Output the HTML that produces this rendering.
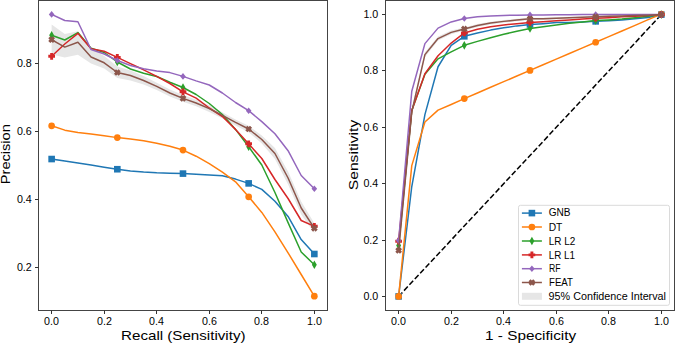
<!DOCTYPE html>
<html><head><meta charset="utf-8"><style>
html,body{margin:0;padding:0;background:#fff;}
body{width:675px;height:343px;overflow:hidden;font-family:"Liberation Sans",sans-serif;}
svg{display:block;}
</style></head><body>
<svg width="675" height="343" viewBox="0 0 675 343">
<rect width="675" height="343" fill="#fff"/>
<defs><clipPath id="cl"><rect x="38.5" y="0.5" width="289.0" height="310.0"/></clipPath><clipPath id="cr"><rect x="385.5" y="0.5" width="289.0" height="310.0"/></clipPath></defs>
<g clip-path="url(#cl)">
<polygon points="51.64,24.6 64.78,34.1 77.91,31.3 91.05,48.5 104.18,56 117.31,66.5 130.45,70.5 143.59,76 156.72,82.8 169.86,89.6 182.99,95 196.12,99.7 209.26,105.3 222.39,112.2 235.53,119.4 248.66,125.8 261.8,135.5 274.94,148 288.07,171.5 301.2,201.5 314.34,223.3 314.34,233.3 301.2,214.5 288.07,184.5 274.94,159 261.8,143.5 248.66,132.2 235.53,125.4 222.39,118.6 209.26,111.9 196.12,106.3 182.99,101.8 169.86,96.4 156.72,90 143.59,84.5 130.45,80.5 117.31,78 104.18,68.5 91.05,63.5 77.91,54.8 64.78,57.6 51.64,54.6" fill="#e6e6e6"/>
<path d="M51.64 159.04 L64.78 161.09 L77.91 163.11 L91.05 165.11 L104.18 167.17 L117.31 169.23 L130.45 170.94 L143.59 172.03 L156.72 172.79 L169.86 173.19 L182.99 173.6 L196.12 174.24 L209.26 174.89 L222.39 175.78 L235.53 179.1 L248.66 183.39 L261.8 189.4 L274.94 201.22 L288.07 216.44 L301.2 239.51 L314.34 254" fill="none" stroke="#1f77b4" stroke-width="1.5" stroke-linejoin="round" stroke-linecap="square"/>
<rect x="48.34" y="155.74" width="6.6" height="6.6" fill="#1f77b4" stroke="none"/>
<rect x="114.02" y="165.93" width="6.6" height="6.6" fill="#1f77b4" stroke="none"/>
<rect x="179.69" y="170.3" width="6.6" height="6.6" fill="#1f77b4" stroke="none"/>
<rect x="245.36" y="180.09" width="6.6" height="6.6" fill="#1f77b4" stroke="none"/>
<rect x="311.04" y="250.7" width="6.6" height="6.6" fill="#1f77b4" stroke="none"/>
<path d="M51.64 125.8 L64.78 130.15 L77.91 132.4 L91.05 134.11 L104.18 135.73 L117.31 137.62 L130.45 138.96 L143.59 140.76 L156.72 143.16 L169.86 146.18 L182.99 150.07 L196.12 156.22 L209.26 163.59 L222.39 172.21 L235.53 181.83 L248.66 196.78 L261.8 212.43 L274.94 231.89 L288.07 252.81 L301.2 274.51 L314.34 296.2" fill="none" stroke="#ff7f0e" stroke-width="1.5" stroke-linejoin="round" stroke-linecap="square"/>
<circle cx="51.64" cy="125.8" r="3.35" fill="#ff7f0e" stroke="none"/>
<circle cx="117.31" cy="137.62" r="3.35" fill="#ff7f0e" stroke="none"/>
<circle cx="182.99" cy="150.07" r="3.35" fill="#ff7f0e" stroke="none"/>
<circle cx="248.66" cy="196.78" r="3.35" fill="#ff7f0e" stroke="none"/>
<circle cx="314.34" cy="296.2" r="3.35" fill="#ff7f0e" stroke="none"/>
<path d="M51.64 35.2 L64.78 40 L77.91 32.6 L91.05 48.2 L104.18 52.5 L117.31 62 L130.45 69 L143.59 73.3 L156.72 76.5 L169.86 82.3 L182.99 87.5 L196.12 94.5 L209.26 103.5 L222.39 114.5 L235.53 129.4 L248.66 146.7 L261.8 165 L274.94 192.5 L288.07 222.6 L301.2 252 L314.34 264.8" fill="none" stroke="#2ca02c" stroke-width="1.5" stroke-linejoin="round" stroke-linecap="square"/>
<polygon points="51.64,30.9 54.09,35.2 51.64,39.5 49.19,35.2" fill="#2ca02c" stroke="none"/>
<polygon points="117.31,57.7 119.77,62 117.31,66.3 114.86,62" fill="#2ca02c" stroke="none"/>
<polygon points="182.99,83.2 185.44,87.5 182.99,91.8 180.54,87.5" fill="#2ca02c" stroke="none"/>
<polygon points="248.66,142.4 251.11,146.7 248.66,151 246.21,146.7" fill="#2ca02c" stroke="none"/>
<polygon points="314.34,260.5 316.79,264.8 314.34,269.1 311.89,264.8" fill="#2ca02c" stroke="none"/>
<path d="M51.64 56.3 L64.78 44 L77.91 33.3 L91.05 48.8 L104.18 51.2 L117.31 57.4 L130.45 63.6 L143.59 69.8 L156.72 76.4 L169.86 83.5 L182.99 91.8 L196.12 98.2 L209.26 108 L222.39 116.5 L235.53 129.4 L248.66 143.8 L261.8 158.5 L274.94 179.5 L288.07 198.5 L301.2 220.5 L314.34 226.3" fill="none" stroke="#d62728" stroke-width="1.5" stroke-linejoin="round" stroke-linecap="square"/>
<polygon points="50.19,52.95 53.09,52.95 53.09,54.85 54.99,54.85 54.99,57.75 53.09,57.75 53.09,59.65 50.19,59.65 50.19,57.75 48.29,57.75 48.29,54.85 50.19,54.85" fill="#d62728" stroke="none"/>
<polygon points="115.86,54.05 118.77,54.05 118.77,55.95 120.66,55.95 120.66,58.85 118.77,58.85 118.77,60.75 115.86,60.75 115.86,58.85 113.97,58.85 113.97,55.95 115.86,55.95" fill="#d62728" stroke="none"/>
<polygon points="181.54,88.45 184.44,88.45 184.44,90.35 186.34,90.35 186.34,93.25 184.44,93.25 184.44,95.15 181.54,95.15 181.54,93.25 179.64,93.25 179.64,90.35 181.54,90.35" fill="#d62728" stroke="none"/>
<polygon points="247.21,140.45 250.11,140.45 250.11,142.35 252.01,142.35 252.01,145.25 250.11,145.25 250.11,147.15 247.21,147.15 247.21,145.25 245.31,145.25 245.31,142.35 247.21,142.35" fill="#d62728" stroke="none"/>
<polygon points="312.89,222.95 315.79,222.95 315.79,224.85 317.69,224.85 317.69,227.75 315.79,227.75 315.79,229.65 312.89,229.65 312.89,227.75 310.99,227.75 310.99,224.85 312.89,224.85" fill="#d62728" stroke="none"/>
<path d="M51.64 14.4 L64.78 20.5 L77.91 21.8 L91.05 49.5 L104.18 54 L117.31 60.5 L130.45 65.5 L143.59 68.8 L156.72 71 L169.86 72.6 L182.99 76.4 L196.12 80.9 L209.26 85 L222.39 93 L235.53 102.5 L248.66 110.7 L261.8 121.6 L274.94 133.7 L288.07 150.7 L301.2 175.5 L314.34 188.8" fill="none" stroke="#9467bd" stroke-width="1.5" stroke-linejoin="round" stroke-linecap="square"/>
<polygon points="51.64,11.1 54.44,14.4 51.64,17.7 48.84,14.4" fill="#9467bd" stroke="none"/>
<polygon points="117.31,57.2 120.11,60.5 117.31,63.8 114.52,60.5" fill="#9467bd" stroke="none"/>
<polygon points="182.99,73.1 185.79,76.4 182.99,79.7 180.19,76.4" fill="#9467bd" stroke="none"/>
<polygon points="248.66,107.4 251.46,110.7 248.66,114 245.86,110.7" fill="#9467bd" stroke="none"/>
<polygon points="314.34,185.5 317.14,188.8 314.34,192.1 311.54,188.8" fill="#9467bd" stroke="none"/>
<path d="M51.64 39.6 L64.78 47.1 L77.91 42.3 L91.05 57 L104.18 62.8 L117.31 72.5 L130.45 75.5 L143.59 80.5 L156.72 86.4 L169.86 93 L182.99 98.4 L196.12 103 L209.26 108.6 L222.39 115.4 L235.53 122.4 L248.66 129 L261.8 139.5 L274.94 153.5 L288.07 178 L301.2 208 L314.34 228.3" fill="none" stroke="#8c564b" stroke-width="1.5" stroke-linejoin="round" stroke-linecap="square"/>
<polygon points="52.95,36.24 55,38.29 53.69,39.6 55,40.91 52.95,42.96 51.64,41.65 50.33,42.96 48.28,40.91 49.59,39.6 48.28,38.29 50.33,36.24 51.64,37.55" fill="#8c564b" stroke="none"/>
<polygon points="118.62,69.14 120.67,71.19 119.37,72.5 120.67,73.81 118.62,75.86 117.31,74.55 116.01,75.86 113.96,73.81 115.26,72.5 113.96,71.19 116.01,69.14 117.31,70.45" fill="#8c564b" stroke="none"/>
<polygon points="184.3,95.04 186.35,97.09 185.04,98.4 186.35,99.71 184.3,101.76 182.99,100.45 181.68,101.76 179.63,99.71 180.94,98.4 179.63,97.09 181.68,95.04 182.99,96.35" fill="#8c564b" stroke="none"/>
<polygon points="249.97,125.64 252.02,127.69 250.72,129 252.02,130.31 249.97,132.36 248.66,131.05 247.36,132.36 245.31,130.31 246.61,129 245.31,127.69 247.36,125.64 248.66,126.95" fill="#8c564b" stroke="none"/>
<polygon points="315.65,224.94 317.7,226.99 316.39,228.3 317.7,229.61 315.65,231.66 314.34,230.35 313.03,231.66 310.98,229.61 312.29,228.3 310.98,226.99 313.03,224.94 314.34,226.25" fill="#8c564b" stroke="none"/>
</g>
<g clip-path="url(#cr)">
<polygon points="398.64,247.48 411.77,108.83 424.91,52.13 438.04,36.56 451.18,30.56 464.31,27.38 477.45,24.1 490.58,21.66 503.72,20.07 516.86,18.76 529.99,17.64 543.12,17.74 556.26,17.17 569.39,16.71 582.53,16.15 595.66,15.86 608.8,15.4 621.93,15.22 635.07,14.86 648.2,14.77 661.34,14.61 661.34,14.61 648.2,15.57 635.07,16.06 621.93,16.82 608.8,17.2 595.66,17.86 582.53,18.15 569.39,18.71 556.26,19.37 543.12,19.94 529.99,20.04 516.86,21.16 503.72,22.67 490.58,24.46 477.45,27.1 464.31,30.58 451.18,34.16 438.04,40.56 424.91,57.13 411.77,114.83 398.64,253.48" fill="#e6e6e6"/>
<path d="M398.64 296.41 L661.34 14.61" stroke="#000" stroke-width="1.5" stroke-dasharray="5.5,2.4" fill="none"/>
<path d="M398.64 296.41 L411.77 186.51 L424.91 114.65 L438.04 66.74 L451.18 45.33 L464.31 36.31 L477.45 32.93 L490.58 30.11 L503.72 27.85 L516.86 25.88 L529.99 24.47 L543.12 23.63 L556.26 22.5 L569.39 22.5 L582.53 21.94 L595.66 21.37 L608.8 20.81 L621.93 19.96 L635.07 18.84 L648.2 17.43 L661.34 14.61" fill="none" stroke="#1f77b4" stroke-width="1.5" stroke-linejoin="round" stroke-linecap="square"/>
<rect x="395.34" y="293.11" width="6.6" height="6.6" fill="#1f77b4" stroke="none"/>
<rect x="461.01" y="33.01" width="6.6" height="6.6" fill="#1f77b4" stroke="none"/>
<rect x="526.69" y="21.17" width="6.6" height="6.6" fill="#1f77b4" stroke="none"/>
<rect x="592.37" y="18.07" width="6.6" height="6.6" fill="#1f77b4" stroke="none"/>
<rect x="658.04" y="11.31" width="6.6" height="6.6" fill="#1f77b4" stroke="none"/>
<path d="M398.64 296.41 L411.77 165.65 L424.91 121.98 L438.04 110.14 L451.18 104.5 L464.31 98.59 L477.45 92.95 L490.58 87.31 L503.72 81.68 L516.86 76.04 L529.99 70.41 L543.12 64.77 L556.26 59.13 L569.39 53.5 L582.53 47.86 L595.66 42.23 L608.8 36.59 L621.93 30.95 L635.07 25.32 L648.2 19.68 L661.34 14.05" fill="none" stroke="#ff7f0e" stroke-width="1.5" stroke-linejoin="round" stroke-linecap="square"/>
<circle cx="398.64" cy="296.41" r="3.35" fill="#ff7f0e" stroke="none"/>
<circle cx="464.31" cy="98.59" r="3.35" fill="#ff7f0e" stroke="none"/>
<circle cx="529.99" cy="70.41" r="3.35" fill="#ff7f0e" stroke="none"/>
<circle cx="595.66" cy="42.23" r="3.35" fill="#ff7f0e" stroke="none"/>
<circle cx="661.34" cy="14.05" r="3.35" fill="#ff7f0e" stroke="none"/>
<path d="M398.64 245.4 L411.77 110.42 L424.91 74.35 L438.04 58.85 L451.18 51.81 L464.31 45.33 L477.45 41.38 L490.58 37.72 L503.72 34.34 L516.86 31.24 L529.99 28.42 L543.12 26.73 L556.26 25.04 L569.39 23.35 L582.53 21.94 L595.66 20.53 L608.8 19.96 L621.93 19.12 L635.07 17.71 L648.2 16.3 L661.34 14.61" fill="none" stroke="#2ca02c" stroke-width="1.5" stroke-linejoin="round" stroke-linecap="square"/>
<polygon points="398.64,241.1 401.09,245.4 398.64,249.7 396.19,245.4" fill="#2ca02c" stroke="none"/>
<polygon points="464.31,41.03 466.76,45.33 464.31,49.63 461.87,45.33" fill="#2ca02c" stroke="none"/>
<polygon points="529.99,24.12 532.44,28.42 529.99,32.72 527.54,28.42" fill="#2ca02c" stroke="none"/>
<polygon points="595.66,16.23 598.12,20.53 595.66,24.83 593.21,20.53" fill="#2ca02c" stroke="none"/>
<polygon points="661.34,10.31 663.79,14.61 661.34,18.91 658.89,14.61" fill="#2ca02c" stroke="none"/>
<path d="M398.64 241.18 L411.77 110.42 L424.91 73.79 L438.04 55.75 L451.18 43.07 L464.31 32.93 L477.45 29.26 L490.58 26.73 L503.72 25.04 L516.86 23.63 L529.99 22.5 L543.12 21.66 L556.26 20.81 L569.39 19.96 L582.53 19.12 L595.66 18.27 L608.8 17.71 L621.93 16.86 L635.07 16.3 L648.2 15.46 L661.34 14.61" fill="none" stroke="#d62728" stroke-width="1.5" stroke-linejoin="round" stroke-linecap="square"/>
<polygon points="397.19,237.83 400.09,237.83 400.09,239.73 401.99,239.73 401.99,242.63 400.09,242.63 400.09,244.53 397.19,244.53 397.19,242.63 395.29,242.63 395.29,239.73 397.19,239.73" fill="#d62728" stroke="none"/>
<polygon points="462.87,29.58 465.76,29.58 465.76,31.48 467.67,31.48 467.67,34.38 465.76,34.38 465.76,36.28 462.87,36.28 462.87,34.38 460.96,34.38 460.96,31.48 462.87,31.48" fill="#d62728" stroke="none"/>
<polygon points="528.54,19.15 531.44,19.15 531.44,21.05 533.34,21.05 533.34,23.95 531.44,23.95 531.44,25.85 528.54,25.85 528.54,23.95 526.64,23.95 526.64,21.05 528.54,21.05" fill="#d62728" stroke="none"/>
<polygon points="594.21,14.92 597.12,14.92 597.12,16.82 599.01,16.82 599.01,19.72 597.12,19.72 597.12,21.62 594.21,21.62 594.21,19.72 592.31,19.72 592.31,16.82 594.21,16.82" fill="#d62728" stroke="none"/>
<polygon points="659.89,11.26 662.79,11.26 662.79,13.16 664.69,13.16 664.69,16.06 662.79,16.06 662.79,17.96 659.89,17.96 659.89,16.06 657.99,16.06 657.99,13.16 659.89,13.16" fill="#d62728" stroke="none"/>
<path d="M398.64 240.61 L411.77 91.26 L424.91 43.64 L438.04 28.14 L451.18 21.94 L464.31 18.56 L477.45 16.86 L490.58 16.02 L503.72 15.46 L516.86 15.17 L529.99 14.89 L543.12 14.89 L556.26 14.75 L569.39 14.75 L582.53 14.61 L595.66 14.61 L608.8 14.61 L621.93 14.61 L635.07 14.61 L648.2 14.61 L661.34 14.61" fill="none" stroke="#9467bd" stroke-width="1.5" stroke-linejoin="round" stroke-linecap="square"/>
<polygon points="398.64,237.31 401.44,240.61 398.64,243.91 395.84,240.61" fill="#9467bd" stroke="none"/>
<polygon points="464.31,15.26 467.12,18.56 464.31,21.86 461.51,18.56" fill="#9467bd" stroke="none"/>
<polygon points="529.99,11.59 532.79,14.89 529.99,18.19 527.19,14.89" fill="#9467bd" stroke="none"/>
<polygon points="595.66,11.31 598.46,14.61 595.66,17.91 592.87,14.61" fill="#9467bd" stroke="none"/>
<polygon points="661.34,11.31 664.14,14.61 661.34,17.91 658.54,14.61" fill="#9467bd" stroke="none"/>
<path d="M398.64 250.48 L411.77 111.83 L424.91 54.63 L438.04 38.56 L451.18 32.36 L464.31 28.98 L477.45 25.6 L490.58 23.06 L503.72 21.37 L516.86 19.96 L529.99 18.84 L543.12 18.84 L556.26 18.27 L569.39 17.71 L582.53 17.15 L595.66 16.86 L608.8 16.3 L621.93 16.02 L635.07 15.46 L648.2 15.17 L661.34 14.61" fill="none" stroke="#8c564b" stroke-width="1.5" stroke-linejoin="round" stroke-linecap="square"/>
<polygon points="399.95,247.12 402,249.17 400.69,250.48 402,251.78 399.95,253.84 398.64,252.53 397.33,253.84 395.28,251.78 396.59,250.48 395.28,249.17 397.33,247.12 398.64,248.43" fill="#8c564b" stroke="none"/>
<polygon points="465.62,25.62 467.67,27.67 466.37,28.98 467.67,30.29 465.62,32.34 464.31,31.03 463.01,32.34 460.96,30.29 462.26,28.98 460.96,27.67 463.01,25.62 464.31,26.93" fill="#8c564b" stroke="none"/>
<polygon points="531.3,15.48 533.35,17.53 532.04,18.84 533.35,20.15 531.3,22.2 529.99,20.89 528.68,22.2 526.63,20.15 527.94,18.84 526.63,17.53 528.68,15.48 529.99,16.79" fill="#8c564b" stroke="none"/>
<polygon points="596.97,13.51 599.02,15.56 597.72,16.86 599.02,18.17 596.97,20.22 595.66,18.92 594.36,20.22 592.31,18.17 593.61,16.86 592.31,15.56 594.36,13.51 595.66,14.81" fill="#8c564b" stroke="none"/>
<polygon points="662.65,11.25 664.7,13.3 663.39,14.61 664.7,15.92 662.65,17.97 661.34,16.66 660.03,17.97 657.98,15.92 659.29,14.61 657.98,13.3 660.03,11.25 661.34,12.56" fill="#8c564b" stroke="none"/>
</g>
<rect x="38.5" y="0.5" width="289" height="310" fill="none" stroke="#444" stroke-width="1"/>
<rect x="385.5" y="0.5" width="289" height="310" fill="none" stroke="#444" stroke-width="1"/>
<g font-family="Liberation Sans, sans-serif" fill="#000">
<text x="51.5" y="324.6" font-size="10.5" text-anchor="middle" textLength="14.9" lengthAdjust="spacingAndGlyphs">0.0</text>
<text x="398.5" y="324.6" font-size="10.5" text-anchor="middle" textLength="14.9" lengthAdjust="spacingAndGlyphs">0.0</text>
<text x="378.3" y="300.2" font-size="10.5" text-anchor="end" textLength="14.9" lengthAdjust="spacingAndGlyphs">0.0</text>
<text x="104.5" y="324.6" font-size="10.5" text-anchor="middle" textLength="14.9" lengthAdjust="spacingAndGlyphs">0.2</text>
<text x="451.5" y="324.6" font-size="10.5" text-anchor="middle" textLength="14.9" lengthAdjust="spacingAndGlyphs">0.2</text>
<text x="378.3" y="244.2" font-size="10.5" text-anchor="end" textLength="14.9" lengthAdjust="spacingAndGlyphs">0.2</text>
<text x="156.5" y="324.6" font-size="10.5" text-anchor="middle" textLength="14.9" lengthAdjust="spacingAndGlyphs">0.4</text>
<text x="503.5" y="324.6" font-size="10.5" text-anchor="middle" textLength="14.9" lengthAdjust="spacingAndGlyphs">0.4</text>
<text x="378.3" y="187.2" font-size="10.5" text-anchor="end" textLength="14.9" lengthAdjust="spacingAndGlyphs">0.4</text>
<text x="209.5" y="324.6" font-size="10.5" text-anchor="middle" textLength="14.9" lengthAdjust="spacingAndGlyphs">0.6</text>
<text x="556.5" y="324.6" font-size="10.5" text-anchor="middle" textLength="14.9" lengthAdjust="spacingAndGlyphs">0.6</text>
<text x="378.3" y="131.2" font-size="10.5" text-anchor="end" textLength="14.9" lengthAdjust="spacingAndGlyphs">0.6</text>
<text x="261.5" y="324.6" font-size="10.5" text-anchor="middle" textLength="14.9" lengthAdjust="spacingAndGlyphs">0.8</text>
<text x="608.5" y="324.6" font-size="10.5" text-anchor="middle" textLength="14.9" lengthAdjust="spacingAndGlyphs">0.8</text>
<text x="378.3" y="74.2" font-size="10.5" text-anchor="end" textLength="14.9" lengthAdjust="spacingAndGlyphs">0.8</text>
<text x="314.5" y="324.6" font-size="10.5" text-anchor="middle" textLength="14.9" lengthAdjust="spacingAndGlyphs">1.0</text>
<text x="661.5" y="324.6" font-size="10.5" text-anchor="middle" textLength="14.9" lengthAdjust="spacingAndGlyphs">1.0</text>
<text x="378.3" y="18.2" font-size="10.5" text-anchor="end" textLength="14.9" lengthAdjust="spacingAndGlyphs">1.0</text>
<text x="31.8" y="271.2" font-size="10.5" text-anchor="end" textLength="14.9" lengthAdjust="spacingAndGlyphs">0.2</text>
<text x="31.8" y="203.2" font-size="10.5" text-anchor="end" textLength="14.9" lengthAdjust="spacingAndGlyphs">0.4</text>
<text x="31.8" y="135.2" font-size="10.5" text-anchor="end" textLength="14.9" lengthAdjust="spacingAndGlyphs">0.6</text>
<text x="31.8" y="67.2" font-size="10.5" text-anchor="end" textLength="14.9" lengthAdjust="spacingAndGlyphs">0.8</text>
<path d="M51.5 310.5 V314 M398.5 310.5 V314 M385.5 296.5 H382 M104.5 310.5 V314 M451.5 310.5 V314 M385.5 240.5 H382 M156.5 310.5 V314 M503.5 310.5 V314 M385.5 183.5 H382 M209.5 310.5 V314 M556.5 310.5 V314 M385.5 127.5 H382 M261.5 310.5 V314 M608.5 310.5 V314 M385.5 70.5 H382 M314.5 310.5 V314 M661.5 310.5 V314 M385.5 14.5 H382 M38.5 267.5 H35 M38.5 199.5 H35 M38.5 131.5 H35 M38.5 63.5 H35" stroke="#333" stroke-width="1" fill="none"/>
<text x="183.3" y="340" font-size="13.1" text-anchor="middle" textLength="124.5" lengthAdjust="spacingAndGlyphs">Recall (Sensitivity)</text>
<text x="530.6" y="340.2" font-size="13.1" text-anchor="middle" textLength="91" lengthAdjust="spacingAndGlyphs">1 - Specificity</text>
<text x="10.1" y="154.2" font-size="13.1" text-anchor="middle" textLength="60" lengthAdjust="spacingAndGlyphs" transform="rotate(-90 10.1 154.2)">Precision</text>
<text x="357.6" y="155" font-size="13.1" text-anchor="middle" textLength="70.5" lengthAdjust="spacingAndGlyphs" transform="rotate(-90 357.6 155)">Sensitivity</text>
</g>
<rect x="518.5" y="205.3" width="151" height="100" rx="2" ry="2" fill="#fff" fill-opacity="0.8" stroke="#dadada" stroke-width="1"/>
<g font-family="Liberation Sans, sans-serif" fill="#000">
<path d="M521.9 213.1 H541.9" stroke="#1f77b4" stroke-width="1.5"/>
<rect x="528.6" y="209.8" width="6.6" height="6.6" fill="#1f77b4" stroke="none"/>
<text x="548.7" y="216.4" font-size="10.0" text-anchor="start" textLength="21.8" lengthAdjust="spacingAndGlyphs">GNB</text>
<path d="M521.9 227 H541.9" stroke="#ff7f0e" stroke-width="1.5"/>
<circle cx="531.9" cy="227" r="3.35" fill="#ff7f0e" stroke="none"/>
<text x="548.7" y="230.5" font-size="10.0" text-anchor="start" textLength="13.7" lengthAdjust="spacingAndGlyphs">DT</text>
<path d="M521.9 241 H541.9" stroke="#2ca02c" stroke-width="1.5"/>
<polygon points="531.9,236.7 534.35,241 531.9,245.3 529.45,241" fill="#2ca02c" stroke="none"/>
<text x="548.7" y="245" font-size="10.0" text-anchor="start" textLength="26.6" lengthAdjust="spacingAndGlyphs">LR L2</text>
<path d="M521.9 254.9 H541.9" stroke="#d62728" stroke-width="1.5"/>
<polygon points="530.45,251.55 533.35,251.55 533.35,253.45 535.25,253.45 535.25,256.35 533.35,256.35 533.35,258.25 530.45,258.25 530.45,256.35 528.55,256.35 528.55,253.45 530.45,253.45" fill="#d62728" stroke="none"/>
<text x="548.7" y="258.5" font-size="10.0" text-anchor="start" textLength="26.3" lengthAdjust="spacingAndGlyphs">LR L1</text>
<path d="M521.9 268.7 H541.9" stroke="#9467bd" stroke-width="1.5"/>
<polygon points="531.9,265.4 534.7,268.7 531.9,272 529.1,268.7" fill="#9467bd" stroke="none"/>
<text x="549" y="272.1" font-size="10.0" text-anchor="start" textLength="11.6" lengthAdjust="spacingAndGlyphs">RF</text>
<path d="M521.9 282.5 H541.9" stroke="#8c564b" stroke-width="1.5"/>
<polygon points="533.21,279.14 535.26,281.19 533.95,282.5 535.26,283.81 533.21,285.86 531.9,284.55 530.59,285.86 528.54,283.81 529.85,282.5 528.54,281.19 530.59,279.14 531.9,280.45" fill="#8c564b" stroke="none"/>
<text x="549" y="286.2" font-size="10.0" text-anchor="start" textLength="24" lengthAdjust="spacingAndGlyphs">FEAT</text>
<rect x="521.9" y="292.8" width="20" height="7" fill="#e6e6e6" stroke="none"/>
<text x="548.6" y="300.1" font-size="10.0" text-anchor="start" textLength="117.4" lengthAdjust="spacingAndGlyphs">95% Confidence Interval</text>
</g>
</svg>
</body></html>
